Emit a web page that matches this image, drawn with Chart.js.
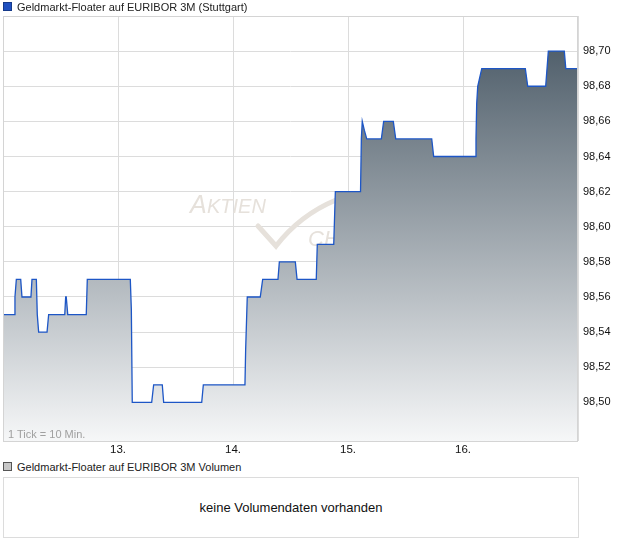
<!DOCTYPE html>
<html>
<head>
<meta charset="utf-8">
<script src="https://cdn.jsdelivr.net/npm/chart.js@4/dist/chart.umd.min.js"></script>
<style>
    body { margin: 0; background: #fff; font-family: "Liberation Sans", Arial, sans-serif; }
    #wrap { position: relative; width: 620px; height: 546px; }
    #price-chart { position: absolute; left: 0; top: 0; }
    .legend { position: absolute; left: 3px; font-size: 11px; color: #222; white-space: nowrap; }
    .legend .box { display: inline-block; width: 7px; height: 7px; margin-right: 5px; vertical-align: 0px; }
    #tick-note { position: absolute; left: 8px; top: 428px; font-size: 11px; color: #a0a0a0; }
    #volume-box { position: absolute; left: 3px; top: 477px; width: 574px; height: 59px; border: 1px solid #dcdcdc;
        text-align: center; line-height: 59px; font-size: 13px; color: #111; }
</style>
</head>
<body>
<div id="wrap">
    <canvas id="price-chart" width="620" height="460"></canvas>
    <div class="legend" style="top:1px;"><span class="box" style="background:#1f50c0;border:1px solid #163a8a;"></span>Geldmarkt-Floater auf EURIBOR 3M (Stuttgart)</div>
    <div id="tick-note">1 Tick = 10 Min.</div>
    <div class="legend" style="top:461px;"><span class="box" style="background:#c8c8c8;border:1px solid #555;"></span>Geldmarkt-Floater auf EURIBOR 3M Volumen</div>
    <div id="volume-box">keine Volumendaten vorhanden</div>
</div>
<script>
// time in days (12 = start of the 12th), price at that moment
const times = [
    12.000, 12.098, 12.104, 12.116, 12.154, 12.165, 12.243, 12.252, 12.290, 12.298,
    12.310, 12.383, 12.397, 12.537, 12.545, 12.550, 12.563, 12.724, 12.733, 13.107,
    13.116, 13.124, 13.293, 13.310, 13.385, 13.397, 13.728, 13.742, 14.104, 14.110,
    14.124, 14.237, 14.258, 14.391, 14.403, 14.542, 14.557, 14.724, 14.733, 14.876,
    14.890, 15.109, 15.116, 15.124, 15.142, 15.163, 15.290, 15.310, 15.394, 15.415,
    15.728, 15.745, 16.107, 16.113, 16.119, 16.128, 16.163, 16.542, 16.563, 16.719,
    16.742, 16.881, 16.894, 17.000
];
const prices = [
    98.55, 98.55, 98.56, 98.57, 98.57, 98.56, 98.56, 98.57, 98.57, 98.55,
    98.54, 98.54, 98.55, 98.55, 98.56, 98.56, 98.55, 98.55, 98.57, 98.57,
    98.553, 98.50, 98.50, 98.51, 98.51, 98.50, 98.50, 98.51, 98.51, 98.53,
    98.56, 98.56, 98.57, 98.57, 98.58, 98.58, 98.57, 98.57, 98.59, 98.59,
    98.62, 98.62, 98.65, 98.66, 98.655, 98.65, 98.65, 98.66, 98.66, 98.65,
    98.65, 98.64, 98.64, 98.65, 98.67, 98.68, 98.69, 98.69, 98.68, 98.68,
    98.70, 98.70, 98.69, 98.69
];
const dayTicks = [13, 14, 15, 16];
const priceTicks = [98.50, 98.52, 98.54, 98.56, 98.58, 98.60, 98.62, 98.64, 98.66, 98.68, 98.70];

const points = times.map((t, i) => ({ x: t, y: prices[i] }));

// faint logo behind the line, plus frame around the plot
const decorations = {
    id: 'decorations',
    beforeDatasetsDraw(chart) {
        const c = chart.ctx;
        c.save();
        c.fillStyle = '#e6e1db';
        c.strokeStyle = '#e6e1db';
        c.font = 'italic 25px "Liberation Sans", Arial';
        c.fillText('A', 190, 213);
        c.font = 'italic 20px "Liberation Sans", Arial';
        c.fillText('KTIEN', 207, 213);
        c.lineWidth = 5;
        c.lineCap = 'round';
        c.beginPath();
        c.moveTo(258, 226);
        c.lineTo(276, 246);
        c.quadraticCurveTo(300, 215, 336, 200);
        c.stroke();
        c.font = 'italic 22px "Liberation Sans", Arial';
        c.fillText('CHECK', 308, 246);
        c.restore();
    },
    afterDraw(chart) {
        const a = chart.chartArea;
        const c = chart.ctx;
        c.save();
        c.strokeStyle = '#d4d4d4';
        c.lineWidth = 1;
        c.strokeRect(a.left + 0.5, a.top + 0.5, a.right - a.left - 1, a.bottom - a.top);
        c.restore();
    }
};

const ctx = document.getElementById('price-chart').getContext('2d');
new Chart(ctx, {
    type: 'line',
    data: {
        datasets: [{
            data: points,
            borderColor: '#1d56c6',
            borderWidth: 1.3,
            pointRadius: 0,
            tension: 0,
            fill: 'start',
            backgroundColor: (context) => {
                const area = context.chart.chartArea;
                if (!area) return '#99a4ab';
                const g = context.chart.ctx.createLinearGradient(0, area.top, 0, area.bottom);
                g.addColorStop(0, '#435360');
                g.addColorStop(1, '#f6f7f8');
                return g;
            }
        }]
    },
    options: {
        responsive: false,
        animation: false,
        layout: { padding: { left: 3, top: 16, right: 0, bottom: 0 } },
        plugins: { legend: { display: false }, tooltip: { enabled: false } },
        scales: {
            x: {
                type: 'linear',
                min: 12,
                max: 17,
                afterBuildTicks: (scale) => { scale.ticks = [12, ...dayTicks, 17].map(v => ({ value: v })); },
                afterFit: (scale) => { scale.height = 19; },
                grid: { color: '#dcdcdc', drawTicks: false },
                border: { display: false },
                ticks: {
                    padding: 2,
                    color: '#111',
                    font: { family: '"Liberation Sans", Arial', size: 11.5 },
                    maxRotation: 0,
                    callback: (v) => dayTicks.includes(v) ? v + '.' : ''
                }
            },
            y: {
                position: 'right',
                min: 98.478,
                max: 98.72,
                afterBuildTicks: (scale) => { scale.ticks = priceTicks.map(v => ({ value: v })); },
                afterFit: (scale) => { scale.width = 42; },
                grid: { color: '#dcdcdc', drawTicks: false },
                border: { display: false },
                ticks: {
                    padding: 5,
                    color: '#111',
                    font: { family: '"Liberation Sans", Arial', size: 11 },
                    callback: (v) => v.toFixed(2).replace('.', ',')
                }
            }
        }
    },
    plugins: [decorations]
});
</script>
</body>
</html>
